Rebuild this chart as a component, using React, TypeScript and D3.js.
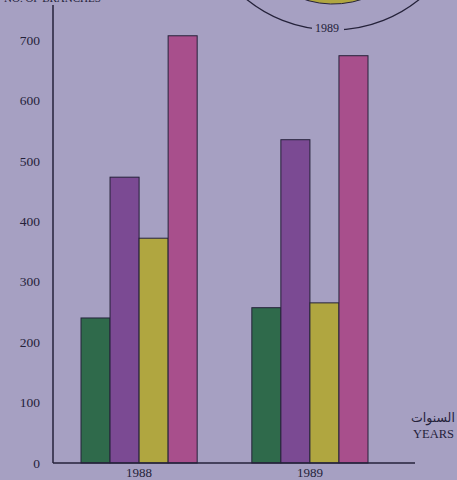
import React from "react";
import * as d3 from "d3";

const years = ["1988", "1989"];
const seriesKeys = ["green", "purple", "yellow", "pink"];
const values1988 = [240, 473, 372, 707];
const values1989 = [257, 535, 265, 674];
const yTicks = [0, 100, 200, 300, 400, 500, 600, 700];
const colors = ["#2f6a4b", "#7b4a93", "#b0a640", "#a84f8c"];

const W = 457;
const H = 480;
const BG = "#a6a0c2";
const INK = "#25223a";

export default function App() {
  const data = [values1988, values1989];
  const y = d3.scaleLinear().domain([0, 700]).range([463, 40]);
  const x0 = d3.scaleBand<string>().domain(years).range([81, 368]).paddingInner(0.32).paddingOuter(0);
  const x1 = d3.scaleBand<string>().domain(seriesKeys).range([0, x0.bandwidth()]).padding(0);

  const pie = d3.pie<number>().sort(null).startAngle(0).endAngle(-2 * Math.PI);
  const arcs = pie(values1989);
  const arcGen = d3.arc<d3.PieArcDatum<number>>().innerRadius(0).outerRadius(93);

  return (
    <svg width={W} height={H} style={{ position: "absolute", left: 0, top: 0, background: BG }}>
      <rect x={0} y={0} width={W} height={H} fill={BG} />
      <g transform="translate(333,-89)">
        {arcs.map((a, i) => (
          <path key={i} d={arcGen(a) || ""} fill={colors[i]} stroke={INK} strokeWidth={1} />
        ))}
      </g>
      <circle cx={333} cy={-107} r={137} fill="none" stroke={INK} strokeWidth={1.3} />
      <rect x={312} y={20} width={32} height={16} fill={BG} />
      <text x={327} y={32} textAnchor="middle" fontFamily="Liberation Serif" fontSize={12} fill={INK}>
        1989
      </text>
      <text x={4} y={2} fontFamily="Liberation Serif" fontSize={11} fill={INK}>
        NO. OF BRANCHES
      </text>
      {yTicks.map((t) => (
        <text key={t} x={40} y={y(t)} dy="0.35em" textAnchor="end" fontFamily="Liberation Serif" fontSize={13.5} fill={INK}>
          {t}
        </text>
      ))}
      {years.map((yr, gi) => (
        <g key={yr} transform={`translate(${x0(yr)},0)`}>
          {seriesKeys.map((k, si) => (
            <rect
              key={k}
              x={x1(k)}
              y={y(data[gi][si])}
              width={x1.bandwidth()}
              height={y(0) - y(data[gi][si])}
              fill={colors[si]}
              stroke={INK}
              strokeWidth={1}
            />
          ))}
        </g>
      ))}
      <line x1={53} y1={5} x2={53} y2={463} stroke={INK} strokeWidth={1.5} />
      <line x1={53} y1={463} x2={415} y2={463} stroke={INK} strokeWidth={1.5} />
      {years.map((yr) => (
        <text key={yr} x={(x0(yr) || 0) + x0.bandwidth() / 2} y={477} textAnchor="middle" fontFamily="Liberation Serif" fontSize={13} fill={INK}>
          {yr}
        </text>
      ))}
      <text x={411} y={422} fontFamily="DejaVu Sans" fontSize={12.5} fill={INK}>
        السنوات
      </text>
      <text x={413} y={438} fontFamily="Liberation Serif" fontSize={12.5} fill={INK}>
        YEARS
      </text>
    </svg>
  );
}
